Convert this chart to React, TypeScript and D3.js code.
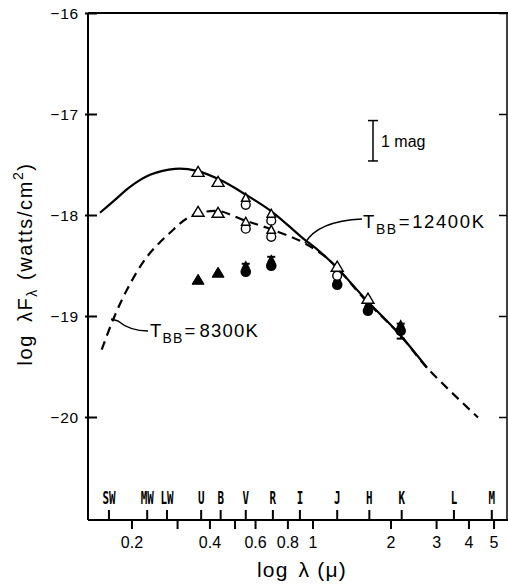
import React from 'react';
import * as d3 from 'd3';

const W = 508;
const H = 585;

// axis ticks
const yTickVals = [-16, -17, -18, -19, -20];
const xTickVals = [0.2, 0.3, 0.4, 0.5, 0.6, 0.8, 1, 2, 3, 4, 5];
const xTickLabels = ['0.2', '', '0.4', '', '0.6', '0.8', '1', '2', '3', '4', '5'];

// photometric band labels
const bandNames = ['SW', 'MW', 'LW', 'U', 'B', 'V', 'R', 'I', 'J', 'H', 'K', 'L', 'M'];
const bandWl = [0.163, 0.229, 0.273, 0.37, 0.44, 0.55, 0.70, 0.89, 1.24, 1.65, 2.2, 3.5, 4.9];

// blackbody T = 12400 K (solid)
const bbHotWl = [0.1505, 0.172, 0.1966, 0.2348, 0.2933, 0.3565, 0.4375, 0.551, 0.6945, 0.891, 1.064, 1.238, 1.602, 2.148, 2.755];
const bbHotVal = [-17.973, -17.845, -17.716, -17.597, -17.538, -17.558, -17.647, -17.795, -17.963, -18.201, -18.359, -18.517, -18.834, -19.171, -19.507];

// blackbody T = 8300 K (dashed)
const bbCoolWl = [0.1528, 0.1691, 0.1913, 0.2286, 0.2805, 0.335, 0.426, 0.5366, 0.6644, 0.891, 1.093, 1.238, 1.602, 2.148, 2.755, 4.336];
const bbCoolVal = [-19.328, -19.032, -18.735, -18.409, -18.171, -18.013, -17.954, -18.043, -18.122, -18.251, -18.390, -18.517, -18.844, -19.170, -19.507, -20.0];

// observations
const brightTriWl = [0.36, 0.43, 1.24, 1.63];
const brightTriVal = [-17.578, -17.677, -18.517, -18.834];
const faintTriWl = [0.36, 0.43];
const faintTriVal = [-17.973, -17.983];
const openDropWl = [0.55, 0.55, 0.69, 0.69];
const openDropVal = [-17.894, -18.131, -18.052, -18.211];
const openCircWl = [1.24];
const openCircVal = [-18.596];
const filledTriWl = [0.36, 0.43];
const filledTriVal = [-18.646, -18.576];
const filledDropWl = [0.55, 0.69, 1.24, 1.63, 2.18];
const filledDropVal = [-18.557, -18.497, -18.685, -18.943, -19.141];
const errWl = [0.55, 0.69, 2.18];
const errHi = [-18.478, -18.409, -19.071];
const errLo = [-18.557, -18.497, -19.219];

const FONT = '"Liberation Sans", Arial, Helvetica, sans-serif';

export default function App() {
  const x = d3.scaleLog().domain([0.1353, 5.61]).range([88, 507]);
  const y = d3.scaleLinear().domain([-21.0, -16]).range([518.5, 13.5]);

  const line = d3
    .line<[number, number]>()
    .x((d) => x(d[0]))
    .y((d) => y(d[1]))
    .curve(d3.curveCatmullRom.alpha(0.5));

  const hot = line(bbHotWl.map((w, i) => [w, bbHotVal[i]] as [number, number])) || '';
  const cool = line(bbCoolWl.map((w, i) => [w, bbCoolVal[i]] as [number, number])) || '';

  const triPath = (cx: number, cy: number) =>
    `M${cx},${cy - 6.5} L${cx + 6},${cy + 3.5} L${cx - 6},${cy + 3.5} Z`;
  const dropTri = (cx: number, cy: number) =>
    `M${cx},${cy - 11.5} L${cx + 4.3},${cy - 3.5} L${cx - 4.3},${cy - 3.5} Z`;

  const x0 = 88, x1 = 507, yTop = 13, yBot = 520;

  return (
    <svg
      width={W}
      height={H}
      style={{ position: 'absolute', left: 0, top: 0, background: '#fff' }}
      fontFamily={FONT}
    >
      <rect width={W} height={H} fill="#fff" />
      {/* frame */}
      <line x1={x0} y1={yTop} x2={W} y2={yTop} stroke="#000" strokeWidth={2} />
      <line x1={x0} y1={yTop} x2={x0} y2={yBot} stroke="#000" strokeWidth={2} />
      <line x1={x1} y1={yTop} x2={x1} y2={yBot} stroke="#000" strokeWidth={1.5} />
      <line x1={x0} y1={yBot} x2={W} y2={yBot} stroke="#000" strokeWidth={2} />

      {/* y ticks */}
      {yTickVals.map((v) => (
        <g key={v}>
          <line x1={85} x2={97} y1={y(v)} y2={y(v)} stroke="#000" strokeWidth={2} />
          <line x1={499} x2={x1} y1={y(v)} y2={y(v)} stroke="#000" strokeWidth={1.5} />
          <text x={79} y={y(v) + 5.5} textAnchor="end" fontSize={15.5} letterSpacing={0.8}>
            {'\u2212' + Math.abs(v)}
          </text>
        </g>
      ))}

      {/* y label */}
      <text transform="translate(32,264) rotate(-90)" textAnchor="middle" fontSize={20} letterSpacing={1.6}>
        <tspan>log</tspan>
        <tspan dx={12}>λF</tspan>
        <tspan dy={5} fontSize={14}>λ</tspan>
        <tspan dy={-5} dx={8}>(watts/cm</tspan>
        <tspan dy={-9} fontSize={14}>2</tspan>
        <tspan dy={9}>)</tspan>
      </text>

      {/* x ticks */}
      {xTickVals.map((v, i) => (
        <g key={v}>
          <line x1={x(v)} x2={x(v)} y1={yBot} y2={yBot + 9} stroke="#000" strokeWidth={2} />
          {xTickLabels[i] && (
            <text x={x(v)} y={548} textAnchor="middle" fontSize={16}>
              {xTickLabels[i]}
            </text>
          )}
        </g>
      ))}

      {/* band ticks + labels */}
      {bandNames.map((b, i) => (
        <g key={b}>
          <line x1={x(bandWl[i])} x2={x(bandWl[i])} y1={yBot - 10} y2={yBot} stroke="#000" strokeWidth={2} />
          <text
            transform={`translate(${x(bandWl[i])},503.5) scale(0.62,1)`}
            textAnchor="middle"
            fontSize={17.5}
            fontWeight="bold"
            fontFamily='"DejaVu Sans Mono", monospace'
          >
            {b}
          </text>
        </g>
      ))}

      {/* x label */}
      <text x={302} y={577} textAnchor="middle" fontSize={21} letterSpacing={1.2}>
        <tspan>log</tspan>
        <tspan dx={10}>λ</tspan>
        <tspan dx={7}>(μ)</tspan>
      </text>

      {/* curves */}
      <path d={hot} fill="none" stroke="#000" strokeWidth={2.2} />
      <path d={cool} fill="none" stroke="#000" strokeWidth={2.2} strokeDasharray="9,6" />

      {/* leaders + labels */}
      <path d="M111,319 L118,321 Q130,331 148,331" fill="none" stroke="#000" strokeWidth={1.5} />
      <text x={150} y={337} fontSize={18.5} letterSpacing={1.2}>
        <tspan>T</tspan>
        <tspan dy={6} fontSize={14}>BB</tspan>
        <tspan dy={-6} dx={1}>=</tspan>
        <tspan dx={3}>8300K</tspan>
      </text>

      <path d="M305,243 Q318,221 362,219" fill="none" stroke="#000" strokeWidth={1.5} />
      <text x={363} y={228} fontSize={18.5} letterSpacing={1.6}>
        <tspan>T</tspan>
        <tspan dy={6} fontSize={14}>BB</tspan>
        <tspan dy={-6} dx={1}>=</tspan>
        <tspan dx={1}>12400K</tspan>
      </text>

      {/* 1 mag bar */}
      <line x1={373} x2={373} y1={y(-17.06)} y2={y(-17.46)} stroke="#000" strokeWidth={1.5} />
      <line x1={368} x2={378} y1={y(-17.06)} y2={y(-17.06)} stroke="#000" strokeWidth={1.5} />
      <line x1={368} x2={378} y1={y(-17.46)} y2={y(-17.46)} stroke="#000" strokeWidth={1.5} />
      <text x={381} y={147} fontSize={16}>1 mag</text>

      {/* error bars */}
      {errWl.map((w, i) => (
        <g key={'e' + i}>
          <line x1={x(w)} x2={x(w)} y1={y(errHi[i])} y2={y(errLo[i])} stroke="#000" strokeWidth={1.5} />
          <line x1={x(w) - 4} x2={x(w) + 4} y1={y(errHi[i])} y2={y(errHi[i])} stroke="#000" strokeWidth={2} />
          {i === 2 && (
            <line x1={x(w) - 4} x2={x(w) + 4} y1={y(errLo[i])} y2={y(errLo[i])} stroke="#000" strokeWidth={2} />
          )}
        </g>
      ))}

      {/* filled points */}
      {filledTriWl.map((w, i) => (
        <path key={'ft' + i} d={triPath(x(w), y(filledTriVal[i]))} fill="#000" stroke="#000" strokeWidth={1} />
      ))}
      {filledDropWl.map((w, i) => (
        <g key={'fd' + i}>
          <path d={dropTri(x(w), y(filledDropVal[i]))} fill="#000" />
          <circle cx={x(w)} cy={y(filledDropVal[i])} r={5.3} fill="#000" />
        </g>
      ))}

      {/* open points */}
      {openCircWl.map((w, i) => (
        <circle key={'oc' + i} cx={x(w)} cy={y(openCircVal[i])} r={4.4} fill="#fff" stroke="#000" strokeWidth={1.4} />
      ))}
      {openDropWl.map((w, i) => (
        <g key={'od' + i}>
          <circle cx={x(w)} cy={y(openDropVal[i])} r={4.4} fill="#fff" stroke="#000" strokeWidth={1.4} />
          <path d={dropTri(x(w), y(openDropVal[i]))} fill="#fff" stroke="#000" strokeWidth={1.4} />
        </g>
      ))}
      {brightTriWl.map((w, i) => (
        <path key={'bt' + i} d={triPath(x(w), y(brightTriVal[i]))} fill="#fff" stroke="#000" strokeWidth={1.4} />
      ))}
      {faintTriWl.map((w, i) => (
        <path key={'ft2' + i} d={triPath(x(w), y(faintTriVal[i]))} fill="#fff" stroke="#000" strokeWidth={1.4} />
      ))}
    </svg>
  );
}
